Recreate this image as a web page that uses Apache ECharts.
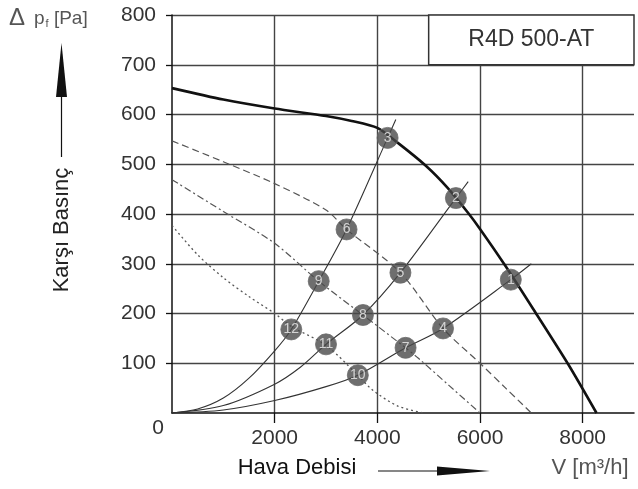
<!DOCTYPE html>
<html><head><meta charset="utf-8">
<script src="https://cdn.jsdelivr.net/npm/echarts@6/dist/echarts.min.js"></script>
<style>html,body{margin:0;padding:0;background:#fff}#c{width:638px;height:489px}</style>
</head><body><div id="c"></div>
<script>
// ---- data ----
const chartTitle = 'R4D 500-AT';
const xTickValues = [2000, 4000, 6000, 8000];
const yTickValues = [100, 200, 300, 400, 500, 600, 700, 800];

// full-speed fan curve
const mainCurve = [[0,653],[1000,630],[2000,612],[3000,597],[3500,587],[4000,573],[4400,543],[4945,497],[5365,453],[5770,402],[6000,370],[6500,295],[7080,202],[7730,96],[8270,0]];
// reduced-speed curves
const speedCurveA = [[0,547],[1000,505],[2000,461],[3000,408],[3400,369],[4450,282],[5280,170],[6000,100],[6500,50],[7000,0]];
const speedCurveB = [[0,469],[1000,405],[2000,341],[2858,265],[3720,197],[4550,131],[4800,110],[5400,55],[6000,0]];
const speedCurveC = [[0,377],[500,318],[1000,272],[1500,234],[2000,200],[2324,174],[3000,136],[3620,76],[3910,46],[4400,14],[4900,0]];
// system (resistance) curves from origin
const systemCurve1 = [[0,0],[500,8],[1000,30],[1500,70],[2000,125],[2324,168],[2858,265],[3400,369],[4200,553],[4360,590]];
const systemCurve2 = [[0,0],[1000,15],[2000,58],[2500,92],[3000,138],[3720,197],[4450,282],[5530,432],[5770,465]];
const systemCurve3 = [[0,0],[1000,6],[2000,25],[3000,53],[3620,76],[4550,131],[5280,170],[6600,268],[7000,300]];
// numbered operating points
const markerNum = ['1','2','3','4','5','6','7','8','9','10','11','12'];
const markerX   = [6600,5530,4200,5280,4450,3400,4550,3720,2858,3620,3000,2324];
const markerY   = [268, 432, 553, 170, 282, 369, 131, 197, 265, 76, 138, 168];

const FONT = 'Liberation Sans, Arial, sans-serif';
const chart = echarts.init(document.getElementById('c'));

const thin = (data, type, color, width) => ({
  type: 'line', data, smooth: 0.3, symbol: 'none', silent: true,
  lineStyle: { color, width, type }, z: 3
});

chart.setOption({
  animation: false,
  backgroundColor: '#fff',
  grid: { left: 172, top: 15, width: 462, height: 398 },
  xAxis: {
    type: 'value', min: 0, max: 9000, interval: 1000,
    axisLine: { show: true, lineStyle: { color: '#111', width: 1.5 } },
    axisTick: { show: true, customValues: xTickValues, length: 10, lineStyle: { color: '#111', width: 1.3 } },
    axisLabel: { customValues: xTickValues, fontSize: 21, fontFamily: FONT, color: '#333', margin: 15, formatter: v => String(v) },
    splitLine: { show: true, lineStyle: { color: '#444', width: 1.4 } }
  },
  yAxis: {
    type: 'value', min: 0, max: 800, interval: 100,
    axisLine: { show: true, lineStyle: { color: '#111', width: 1.5 } },
    axisTick: { show: true, customValues: yTickValues, length: 6, lineStyle: { color: '#111', width: 1.3 } },
    axisLabel: { customValues: yTickValues, fontSize: 21, fontFamily: FONT, color: '#333', margin: 16, formatter: v => String(v) },
    splitLine: { show: true, lineStyle: { color: '#444', width: 1.4 } }
  },
  series: [
    {
      type: 'line', data: mainCurve, smooth: 0.25, symbol: 'none', silent: true,
      lineStyle: { color: '#111', width: 2.6 }, z: 4,
      markArea: {
        silent: true,
        itemStyle: { color: '#fff', borderColor: '#333', borderWidth: 1.5 },
        label: { show: true, position: 'inside', color: '#333', fontSize: 23, fontFamily: FONT, formatter: chartTitle },
        data: [[{ coord: [5000, 800] }, { coord: [9000, 700] }]]
      }
    },
    thin(speedCurveA, [7, 4], '#555', 1.2),
    thin(speedCurveB, [7, 3, 2, 3], '#555', 1.2),
    thin(speedCurveC, [2, 3], '#555', 1.3),
    thin(systemCurve1, 'solid', '#333', 1.1),
    thin(systemCurve2, 'solid', '#333', 1.1),
    thin(systemCurve3, 'solid', '#333', 1.1),
    {
      type: 'scatter', silent: true, z: 10,
      data: markerNum.map((n, i) => [markerX[i], markerY[i], n]),
      symbol: 'circle', symbolSize: 21,
      itemStyle: { color: '#4a4a4a', borderColor: '#6a6a6a', borderWidth: 1 },
      label: { show: true, position: 'inside', color: '#eee', fontSize: 14, fontFamily: FONT, formatter: p => p.data[2] }
    }
  ],
  graphic: [
    { type: 'text', x: 158, y: 428, style: { text: '0', font: '21px ' + FONT, fill: '#333', align: 'center', verticalAlign: 'middle' } },
    { type: 'text', x: 9, y: 18, style: { text: 'Δ', font: '24px ' + FONT, fill: '#555', align: 'left', verticalAlign: 'middle' } },
    { type: 'text', x: 34, y: 19, style: {
        text: 'p{s|f} [Pa]', font: '19px ' + FONT, fill: '#555', align: 'left', verticalAlign: 'middle',
        rich: { s: { fontSize: 11, fontFamily: FONT, fill: '#555', padding: [10, 0, 0, 1] } }
    } },
    { type: 'polygon', shape: { points: [[61.5, 43], [56, 97], [67, 97]] }, style: { fill: '#111' } },
    { type: 'line', shape: { x1: 61.5, y1: 96, x2: 61.5, y2: 157 }, style: { stroke: '#111', lineWidth: 1.2 } },
    { type: 'text', x: 62, y: 230, rotation: Math.PI / 2, style: { text: 'Karşı Basınç', font: '22px ' + FONT, fill: '#222', align: 'center', verticalAlign: 'middle' } },
    { type: 'text', x: 297, y: 468, style: { text: 'Hava Debisi', font: '22px ' + FONT, fill: '#111', align: 'center', verticalAlign: 'middle' } },
    { type: 'line', shape: { x1: 378, y1: 471, x2: 440, y2: 471 }, style: { stroke: '#111', lineWidth: 1.2 } },
    { type: 'polygon', shape: { points: [[437, 466.5], [437, 475.5], [490, 471]] }, style: { fill: '#111' } },
    { type: 'text', x: 590, y: 468, style: { text: 'V [m³/h]', font: '22px ' + FONT, fill: '#555', align: 'center', verticalAlign: 'middle' } }
  ]
});
</script>
</body></html>
